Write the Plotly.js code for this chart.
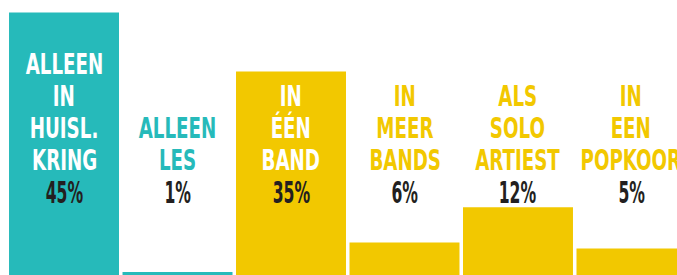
<!DOCTYPE html>
<html>
<head>
<meta charset="utf-8">
<script src="https://cdn.plot.ly/plotly-3.0.1.min.js"></script>
<style>html,body{margin:0;padding:0;background:#fff;}#chart{width:677px;height:275px;}</style>
</head>
<body>
<div id="chart"></div>
<script>
const categories = ["ALLEEN IN HUISL. KRING", "ALLEEN LES", "IN ÉÉN BAND", "IN MEER BANDS", "ALS SOLO ARTIEST", "IN EEN POPKOOR"];
const labelLines = [["ALLEEN","IN","HUISL.","KRING"],["ALLEEN","LES"],["IN","ÉÉN","BAND"],["IN","MEER","BANDS"],["ALS","SOLO","ARTIEST"],["IN","EEN","POPKOOR"]];
const values = [45, 1, 35, 6, 12, 5];
const percentLabels = ["45%", "1%", "35%", "6%", "12%", "5%"];
const groups = ["teal", "teal", "yellow", "yellow", "yellow", "yellow"];

const TEAL = "#26BABA", YELLOW = "#F2C800", DARK = "#231F20";
const colorOf = g => g === "teal" ? TEAL : YELLOW;
const FONT = "'DejaVu Sans Condensed', 'DejaVu Sans', sans-serif";
const H = 275;
const PCT_CY = 191.5, LINE_PITCH = 32;
const WORD_SCALE = 0.70, PCT_SCALE = 0.56;

const trace = {
  type: "bar",
  x: categories,
  y: values,
  marker: {color: groups.map(colorOf), line: {width: 0}},
  hoverinfo: "none"
};

const annotations = [];
const scales = [];
categories.forEach((c, i) => {
  const inside = i === 0 || i === 2;
  const lines = labelLines[i];
  lines.forEach((ln, k) => {
    const cy = PCT_CY - LINE_PITCH * (lines.length - k) + 0.5;
    annotations.push({
      x: c, xref: "x", y: 1 - cy / H, yref: "paper",
      xanchor: "center", yanchor: "middle", showarrow: false,
      text: ln,
      font: {family: FONT, size: 29, color: inside ? "#FFFFFF" : colorOf(groups[i]), weight: 700}
    });
    scales.push(WORD_SCALE);
  });
  annotations.push({
    x: c, xref: "x", y: 1 - PCT_CY / H, yref: "paper",
    xanchor: "center", yanchor: "middle", showarrow: false,
    text: percentLabels[i],
    font: {family: FONT, size: 31, color: DARK, weight: 700}
  });
  scales.push(PCT_SCALE);
});

const layout = {
  width: 677, height: 275,
  margin: {l: 0, r: 0, t: 0, b: 0, pad: 0},
  paper_bgcolor: "#FFFFFF", plot_bgcolor: "#FFFFFF",
  bargap: 0.031,
  showlegend: false,
  xaxis: {type: "category", range: [-0.564, 5.401], visible: false, fixedrange: true},
  yaxis: {range: [0.5, 47.1], visible: false, fixedrange: true},
  annotations: annotations
};

Plotly.newPlot("chart", [trace], layout, {displayModeBar: false, staticPlot: true}).then(gd => {
  // condense the label glyphs horizontally (narrow display type)
  const texts = gd.querySelectorAll("g.annotation text.annotation-text");
  texts.forEach((t, idx) => {
    const s = scales[idx] || 1;
    const bb = t.getBBox();
    const cx = bb.x + bb.width / 2;
    const prev = t.getAttribute("transform") || "";
    t.setAttribute("transform", prev + " translate(" + cx + ",0) scale(" + s + ",1) translate(" + (-cx) + ",0)");
  });
});
</script>
</body>
</html>
